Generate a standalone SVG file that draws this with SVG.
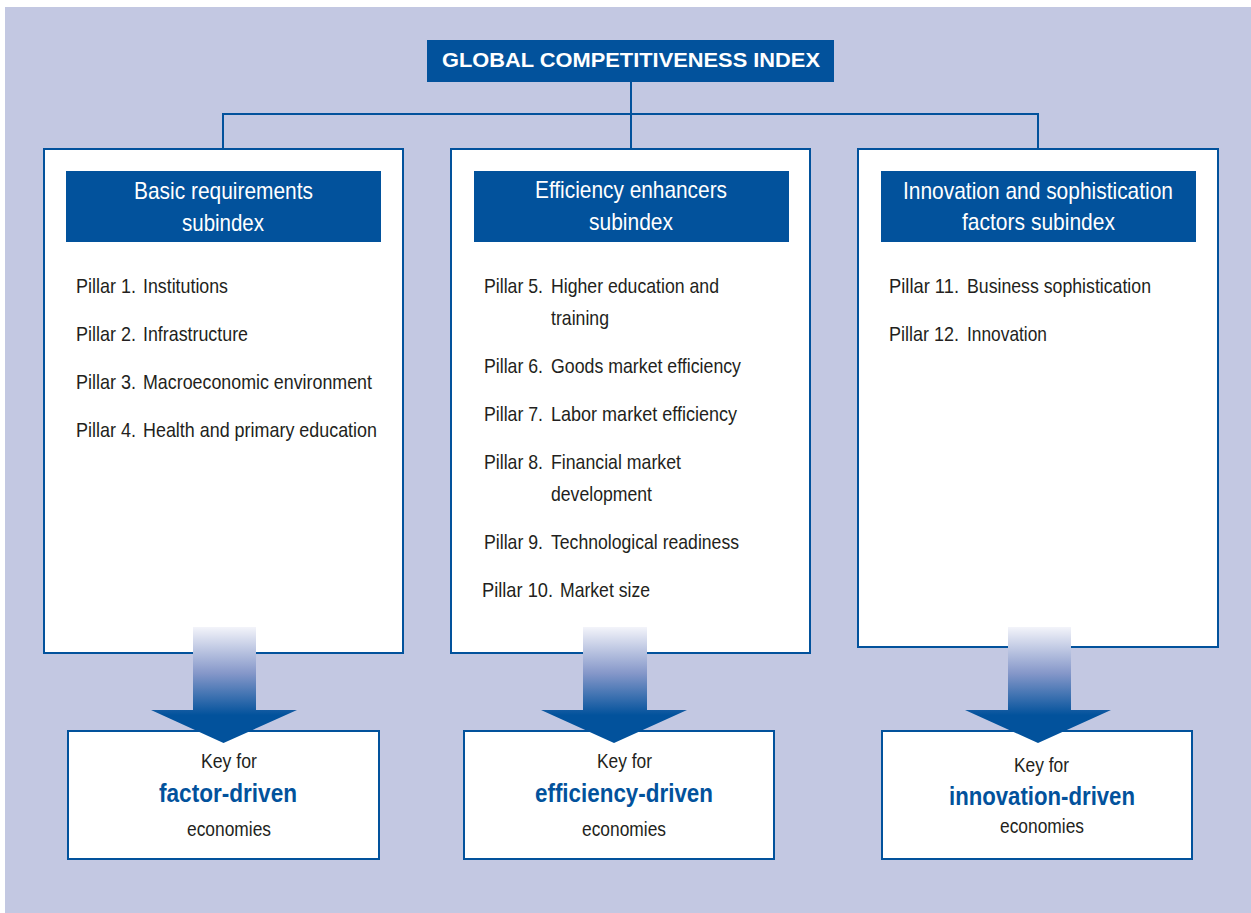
<svg xmlns="http://www.w3.org/2000/svg" width="1251" height="913" viewBox="0 0 1251 913">
<defs>
<linearGradient id="arrowGrad" x1="0" y1="0" x2="0" y2="1">
<stop offset="0" stop-color="#F3F4FA"/>
<stop offset="0.4" stop-color="#8597C9"/>
<stop offset="0.76" stop-color="#02529C"/>
<stop offset="1" stop-color="#02529C"/>
</linearGradient>
<style>
.bg{fill:#C3C8E2}
.box{fill:#FFFFFF;stroke:#02529C;stroke-width:2}
.hdr{fill:#02529C}
.title{font-family:"Liberation Sans",Arial,sans-serif;font-weight:bold;font-size:19.5px;fill:#FFFFFF;text-anchor:middle}
.htxt{font-family:"Liberation Sans",Arial,sans-serif;font-size:24px;fill:#FFFFFF;text-anchor:middle}
.ptxt{font-family:"Liberation Sans",Arial,sans-serif;font-size:21px;fill:#231F20}
.ktxt{font-family:"Liberation Sans",Arial,sans-serif;font-size:19.5px;fill:#231F20;text-anchor:middle}
.kbold{font-family:"Liberation Sans",Arial,sans-serif;font-weight:bold;font-size:25px;fill:#02529C;text-anchor:middle}
.line{fill:none;stroke:#02529C;stroke-width:2}
.arrow{fill:url(#arrowGrad)}
</style>
</defs>
<rect class="bg" x="5" y="7" width="1246" height="906"/>

<g id="connectors">
<path class="line" d="M631 82 V148 M223 149 V114 H1038 V149"/>
</g>

<g id="title">
<rect class="hdr" x="427" y="40" width="407" height="42"/>
<text class="title" x="631" y="67" textLength="378" lengthAdjust="spacingAndGlyphs">GLOBAL COMPETITIVENESS INDEX</text>
</g>

<g id="basic">
<rect class="box" x="44" y="149" width="359" height="504"/>
<rect class="hdr" x="66" y="171" width="315" height="71"/>
<text class="htxt" x="223.5" y="199" textLength="179" lengthAdjust="spacingAndGlyphs">Basic requirements</text>
<text class="htxt" x="223" y="231" textLength="82" lengthAdjust="spacingAndGlyphs">subindex</text>
<text class="ptxt" x="76" y="293" textLength="60" lengthAdjust="spacingAndGlyphs">Pillar 1.</text><text class="ptxt" x="143" y="293" textLength="85" lengthAdjust="spacingAndGlyphs">Institutions</text>
<text class="ptxt" x="76" y="341" textLength="60" lengthAdjust="spacingAndGlyphs">Pillar 2.</text><text class="ptxt" x="143" y="341" textLength="105" lengthAdjust="spacingAndGlyphs">Infrastructure</text>
<text class="ptxt" x="76" y="389" textLength="60" lengthAdjust="spacingAndGlyphs">Pillar 3.</text><text class="ptxt" x="143" y="389" textLength="229" lengthAdjust="spacingAndGlyphs">Macroeconomic environment</text>
<text class="ptxt" x="76" y="437" textLength="60" lengthAdjust="spacingAndGlyphs">Pillar 4.</text><text class="ptxt" x="143" y="437" textLength="234" lengthAdjust="spacingAndGlyphs">Health and primary education</text>
</g>

<g id="efficiency">
<rect class="box" x="451" y="149" width="359" height="504"/>
<rect class="hdr" x="474" y="171" width="315" height="71"/>
<text class="htxt" x="631" y="198" textLength="192" lengthAdjust="spacingAndGlyphs">Efficiency enhancers</text>
<text class="htxt" x="631" y="230" textLength="84" lengthAdjust="spacingAndGlyphs">subindex</text>
<text class="ptxt" x="484" y="293" textLength="59" lengthAdjust="spacingAndGlyphs">Pillar 5.</text><text class="ptxt" x="551" y="293" textLength="168" lengthAdjust="spacingAndGlyphs">Higher education and</text>
<text class="ptxt" x="551" y="325" textLength="58" lengthAdjust="spacingAndGlyphs">training</text>
<text class="ptxt" x="484" y="373" textLength="59" lengthAdjust="spacingAndGlyphs">Pillar 6.</text><text class="ptxt" x="551" y="373" textLength="190" lengthAdjust="spacingAndGlyphs">Goods market efficiency</text>
<text class="ptxt" x="484" y="421" textLength="59" lengthAdjust="spacingAndGlyphs">Pillar 7.</text><text class="ptxt" x="551" y="421" textLength="186" lengthAdjust="spacingAndGlyphs">Labor market efficiency</text>
<text class="ptxt" x="484" y="469" textLength="59" lengthAdjust="spacingAndGlyphs">Pillar 8.</text><text class="ptxt" x="551" y="469" textLength="130" lengthAdjust="spacingAndGlyphs">Financial market</text>
<text class="ptxt" x="551" y="501" textLength="101" lengthAdjust="spacingAndGlyphs">development</text>
<text class="ptxt" x="484" y="549" textLength="59" lengthAdjust="spacingAndGlyphs">Pillar 9.</text><text class="ptxt" x="551" y="549" textLength="188" lengthAdjust="spacingAndGlyphs">Technological readiness</text>
<text class="ptxt" x="482" y="597" textLength="71" lengthAdjust="spacingAndGlyphs">Pillar 10.</text><text class="ptxt" x="560" y="597" textLength="90" lengthAdjust="spacingAndGlyphs">Market size</text>
</g>

<g id="innovation">
<rect class="box" x="858" y="149" width="360" height="498"/>
<rect class="hdr" x="881" y="171" width="315" height="71"/>
<text class="htxt" x="1038" y="199" textLength="270" lengthAdjust="spacingAndGlyphs">Innovation and sophistication</text>
<text class="htxt" x="1038.5" y="230" textLength="153" lengthAdjust="spacingAndGlyphs">factors subindex</text>
<text class="ptxt" x="889" y="293" textLength="70" lengthAdjust="spacingAndGlyphs">Pillar 11.</text><text class="ptxt" x="967" y="293" textLength="184" lengthAdjust="spacingAndGlyphs">Business sophistication</text>
<text class="ptxt" x="889" y="341" textLength="70" lengthAdjust="spacingAndGlyphs">Pillar 12.</text><text class="ptxt" x="967" y="341" textLength="80" lengthAdjust="spacingAndGlyphs">Innovation</text>
</g>

<g id="key-factor">
<rect class="box" x="68" y="731" width="311" height="128"/>
<text class="ktxt" x="229" y="768" textLength="56" lengthAdjust="spacingAndGlyphs">Key for</text>
<text class="kbold" x="228" y="802" textLength="138" lengthAdjust="spacingAndGlyphs">factor-driven</text>
<text class="ktxt" x="229" y="836" textLength="84" lengthAdjust="spacingAndGlyphs">economies</text>
</g>

<g id="key-efficiency">
<rect class="box" x="464" y="731" width="310" height="128"/>
<text class="ktxt" x="624.5" y="768" textLength="55" lengthAdjust="spacingAndGlyphs">Key for</text>
<text class="kbold" x="624" y="802" textLength="178" lengthAdjust="spacingAndGlyphs">efficiency-driven</text>
<text class="ktxt" x="624" y="836" textLength="84" lengthAdjust="spacingAndGlyphs">economies</text>
</g>

<g id="key-innovation">
<rect class="box" x="882" y="731" width="310" height="128"/>
<text class="ktxt" x="1041.5" y="772" textLength="55" lengthAdjust="spacingAndGlyphs">Key for</text>
<text class="kbold" x="1042" y="805" textLength="186" lengthAdjust="spacingAndGlyphs">innovation-driven</text>
<text class="ktxt" x="1042" y="833" textLength="84" lengthAdjust="spacingAndGlyphs">economies</text>
</g>

<g id="arrows">
<path class="arrow" d="M193 627 H256 V710 H297 L223.5 743 L151 710 H193 Z"/>
<path class="arrow" d="M583 627 H647 V710 H687 L614 743 L541 710 H583 Z"/>
<path class="arrow" d="M1008 627 H1071 V710 H1111 L1038 743 L965 710 H1008 Z"/>
</g>
</svg>
